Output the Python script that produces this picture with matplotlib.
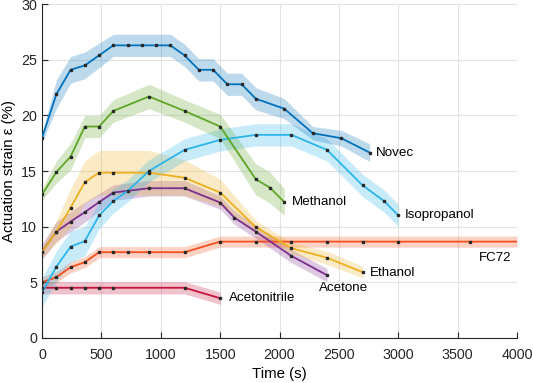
import numpy as np
import matplotlib.pyplot as plt

plt.rcParams['font.family'] = ['Liberation Sans', 'DejaVu Sans']
plt.rcParams['font.size'] = 10.8

# time (s), strain (%), band half width (%)
t_novec = [0, 120, 240, 360, 480, 600, 720, 840, 960, 1080, 1200, 1320, 1440, 1560, 1680, 1800, 2040, 2280, 2520, 2760]
y_novec = [18.0, 21.9, 24.1, 24.5, 25.4, 26.3, 26.3, 26.3, 26.3, 26.3, 25.4, 24.1, 24.1, 22.8, 22.8, 21.5, 20.6, 18.4, 17.95, 16.65]
e_novec = [0.4, 1.3, 1.2, 1.2, 1.1, 1.0, 1.0, 1.0, 1.0, 1.0, 1.0, 1.0, 1.0, 1.0, 1.0, 1.0, 0.9, 0.6, 0.7, 0.8]

t_meth = [0, 120, 240, 360, 480, 600, 900, 1200, 1500, 1800, 1920, 2040]
y_meth = [12.9, 14.9, 16.3, 19.0, 19.0, 20.4, 21.7, 20.4, 19.0, 14.25, 13.5, 12.2]
e_meth = [0.5, 1.0, 1.2, 1.0, 1.0, 1.0, 1.1, 1.0, 1.1, 1.4, 1.4, 1.2]

t_iso = [0, 120, 240, 360, 480, 600, 720, 900, 1200, 1500, 1800, 2100, 2400, 2700, 2880, 3000]
y_iso = [4.1, 6.4, 8.2, 8.7, 11.0, 12.3, 13.2, 15.0, 16.9, 17.8, 18.25, 18.25, 16.9, 13.7, 12.3, 11.0]
e_iso = [1.3, 1.4, 1.4, 1.3, 1.2, 1.1, 1.0, 1.0, 1.0, 1.0, 1.0, 1.0, 1.0, 1.0, 1.0, 1.0]

t_eth = [0, 120, 240, 360, 480, 600, 900, 1200, 1500, 1800, 2100, 2400, 2700]
y_eth = [7.7, 9.55, 11.7, 14.0, 14.85, 14.85, 14.85, 14.4, 13.06, 9.95, 8.06, 7.2, 5.9]
e_eth = [0.5, 1.0, 1.7, 1.9, 2.0, 2.0, 2.0, 1.6, 1.2, 0.6, 0.5, 0.6, 0.5]

t_acet = [0, 120, 240, 360, 480, 600, 900, 1200, 1500, 1620, 1800, 2100, 2400]
y_acet = [7.75, 9.55, 10.45, 11.3, 12.2, 13.06, 13.45, 13.45, 12.16, 10.8, 9.55, 7.36, 5.63]
e_acet = [0.7, 0.9, 0.9, 0.9, 0.8, 0.7, 0.7, 0.7, 0.6, 0.6, 0.6, 0.6, 0.6]

t_fc72 = [0, 120, 240, 360, 480, 600, 720, 900, 1200, 1500, 1800, 2100, 2400, 2700, 3000, 3600, 4000]
y_fc72 = [5.0, 5.45, 6.35, 6.8, 7.7, 7.7, 7.7, 7.7, 7.7, 8.65, 8.65, 8.65, 8.65, 8.65, 8.65, 8.65, 8.65]
e_fc72 = [0.5] * len(t_fc72)

t_acn = [0, 120, 240, 360, 480, 600, 1200, 1500]
y_acn = [4.5, 4.5, 4.5, 4.5, 4.5, 4.5, 4.5, 3.56]
e_acn = [0.55] * len(t_acn)

series = [
    (t_fc72, y_fc72, e_fc72, '#F4511E', 'FC72'),
    (t_acn, y_acn, e_acn, '#C8143C', 'Acetonitrile'),
    (t_acet, y_acet, e_acet, '#7E2F8E', 'Acetone'),
    (t_eth, y_eth, e_eth, '#EDB120', 'Ethanol'),
    (t_iso, y_iso, e_iso, '#2CB5EA', 'Isopropanol'),
    (t_meth, y_meth, e_meth, '#5DA626', 'Methanol'),
    (t_novec, y_novec, e_novec, '#0072BD', 'Novec'),
]

fig = plt.figure(figsize=(5.33, 3.83), dpi=100)
ax = fig.add_axes([0.079, 0.118, 0.891, 0.871])

for t, y, e, c, name in series:
    t = np.array(t); y = np.array(y); e = np.array(e)
    ax.fill_between(t, y - e, y + e, color=c, alpha=0.26, lw=0)
for t, y, e, c, name in series:
    n = len(t) - 1 if name == 'FC72' else len(t)
    ax.plot(t, y, color=c, lw=1.3, zorder=3)
    ax.plot(t[:n], y[:n], 's', color='#2a2a2a', ms=1.6, zorder=4)

# curve labels
lab = dict(va='center', fontsize=9.6)
ax.text(2815, 16.65, 'Novec', **lab)
ax.text(2100, 12.2, 'Methanol', **lab)
ax.text(3055, 11.0, 'Isopropanol', **lab)
ax.text(3950, 7.2, 'FC72', ha='right', **lab)
ax.text(2760, 5.85, 'Ethanol', **lab)
ax.text(2540, 4.5, 'Acetone', ha='center', **lab)
ax.text(1570, 3.56, 'Acetonitrile', **lab)

ax.set_xlim(0, 4000)
ax.set_ylim(0, 30)
ax.set_xticks(np.arange(0, 4001, 500))
ax.set_yticks(np.arange(0, 31, 5))
ax.grid(True, color='#e3e3e3', lw=0.8)
ax.set_axisbelow(True)
for s in ['top', 'right']:
    ax.spines[s].set_visible(False)
for s in ['left', 'bottom']:
    ax.spines[s].set_color('#262626')
    ax.spines[s].set_linewidth(0.8)
ax.tick_params(direction='in', length=4, width=0.8, color='#262626', labelcolor='#262626', labelsize=10.3)
ax.tick_params(axis='x', pad=7)
ax.set_xlabel('Time (s)', labelpad=4)
ax.set_ylabel('Actuation strain ε (%)', labelpad=4)

fig.savefig('out.png', dpi=100)
